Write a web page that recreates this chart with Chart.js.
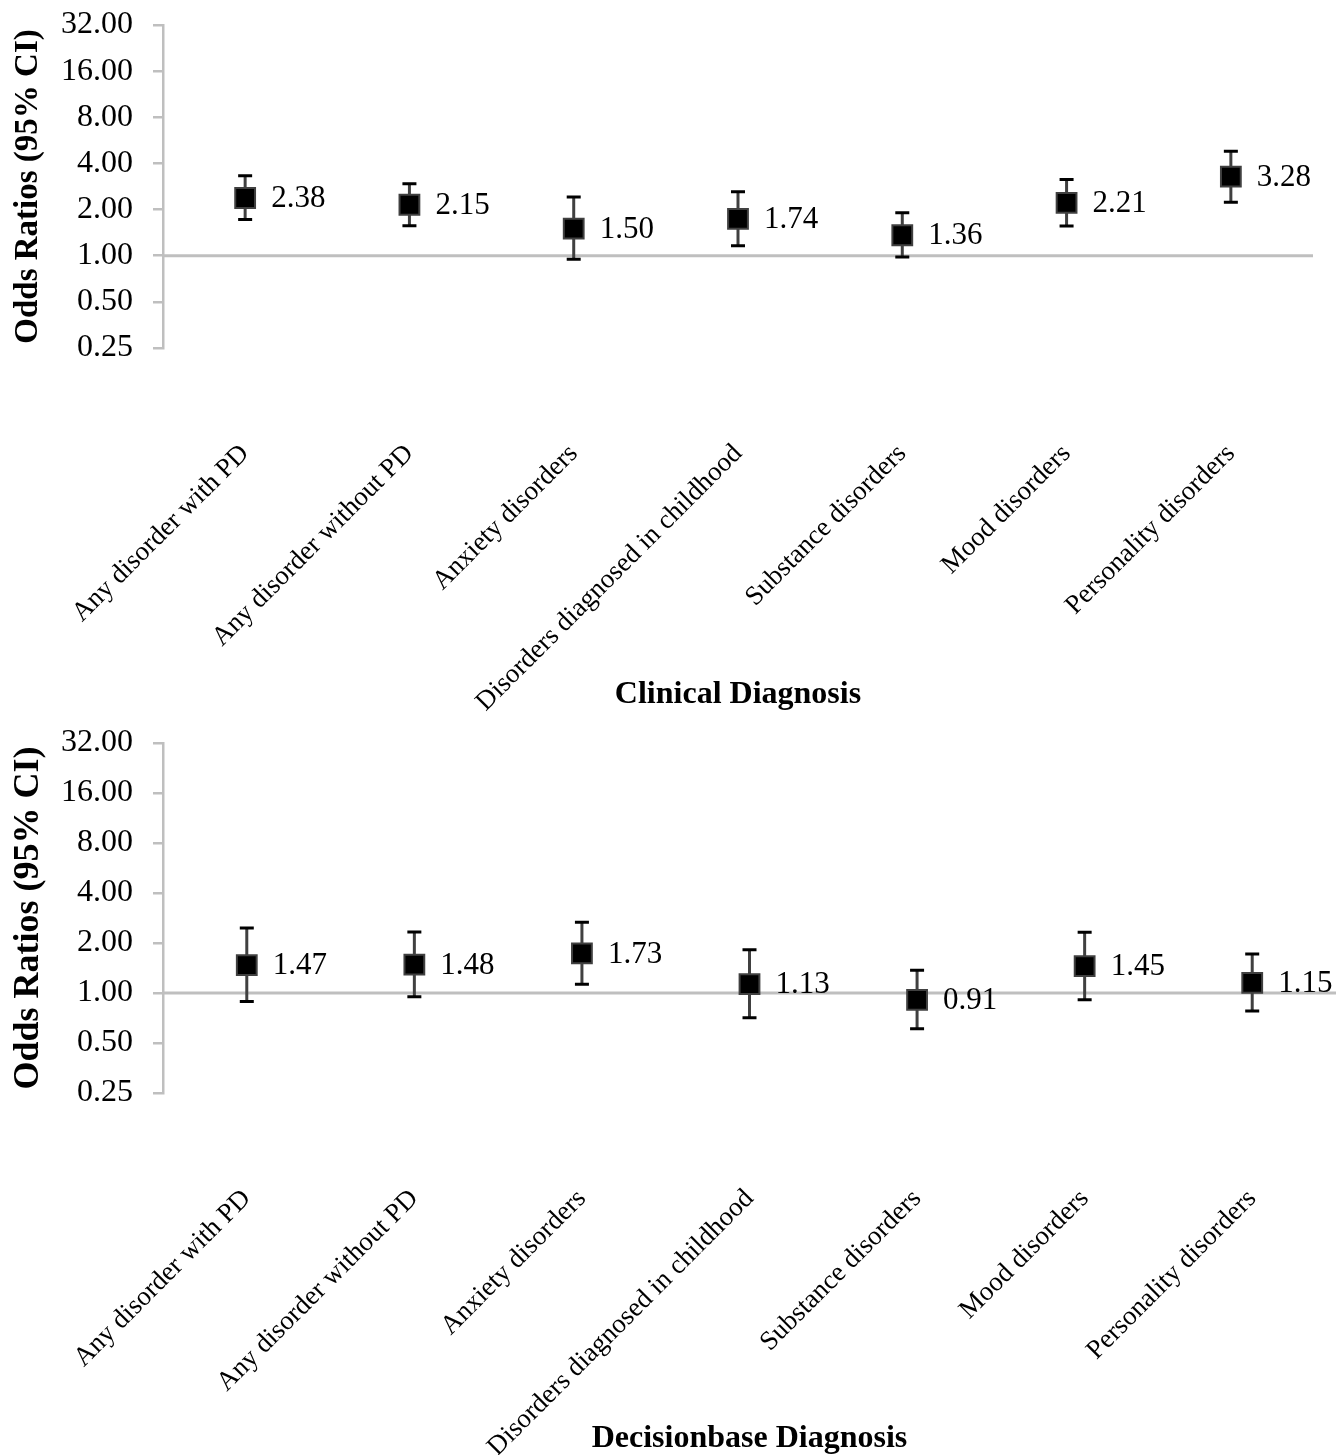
<!DOCTYPE html>
<html>
<head>
<meta charset="utf-8">
<script src="https://cdn.jsdelivr.net/npm/chart.js@4.4.1/dist/chart.umd.min.js"></script>
<style>
  html, body { margin: 0; padding: 0; background: #fff; overflow: hidden; }
  .box { position: absolute; left: 0; width: 1339px; }
  #top { top: 0; height: 720px; }
  #bot { top: 720px; height: 735px; }
</style>
</head>
<body>
<div class="box" id="top"><canvas id="c1"></canvas></div>
<div class="box" id="bot"><canvas id="c2"></canvas></div>
<script>
// ---- data ----
const categories = ["Any disorder with PD", "Any disorder without PD", "Anxiety disorders",
  "Disorders diagnosed in childhood", "Substance disorders", "Mood disorders", "Personality disorders"];
const clinicalOR    = [2.38, 2.15, 1.50, 1.74, 1.36, 2.21, 3.28];
const clinicalLower = [1.72, 1.57, 0.95, 1.16, 0.98, 1.56, 2.23];
const clinicalUpper = [3.32, 2.95, 2.42, 2.61, 1.91, 3.14, 4.81];
const decisionOR    = [1.47, 1.48, 1.73, 1.13, 0.91, 1.45, 1.15];
const decisionLower = [0.89, 0.95, 1.13, 0.71, 0.61, 0.91, 0.78];
const decisionUpper = [2.46, 2.33, 2.67, 1.82, 1.37, 2.32, 1.72];
const yTicks = [0.25, 0.5, 1, 2, 4, 8, 16, 32];
const yTitle = "Odds Ratios (95% CI)";
const xTitleTop = "Clinical Diagnosis";
const xTitleBottom = "Decisionbase Diagnosis";

const SERIF = "'Liberation Serif', 'Times New Roman', serif";
const AXIS_GREY = '#BFBFBF';

const forestPlugin = {
  id: 'forest',
  beforeDatasetsDraw(chart, args, opts) {
    const ctx = chart.ctx, area = chart.chartArea;
    const xs = chart.scales.x, ys = chart.scales.y;
    // reference line at OR = 1
    const y1 = ys.getPixelForValue(1);
    ctx.save();
    ctx.strokeStyle = AXIS_GREY;
    ctx.lineWidth = 3;
    ctx.beginPath();
    ctx.moveTo(area.left, y1);
    ctx.lineTo(area.right, y1);
    ctx.stroke();
    // error bars
    const lo = opts.lower, hi = opts.upper;
    for (let i = 0; i < lo.length; i++) {
      const x = xs.getPixelForValue(i);
      const yl = ys.getPixelForValue(lo[i]);
      const yh = ys.getPixelForValue(hi[i]);
      ctx.strokeStyle = '#404040';
      ctx.lineWidth = 3;
      ctx.beginPath();
      ctx.moveTo(x, yl); ctx.lineTo(x, yh);
      ctx.stroke();
      ctx.strokeStyle = '#000';
      ctx.beginPath();
      ctx.moveTo(x - 7, yl); ctx.lineTo(x + 7, yl);
      ctx.moveTo(x - 7, yh); ctx.lineTo(x + 7, yh);
      ctx.stroke();
    }
    ctx.restore();
  },
  afterDatasetsDraw(chart) {
    const ctx = chart.ctx;
    const meta = chart.getDatasetMeta(0);
    const data = chart.data.datasets[0].data;
    ctx.save();
    ctx.fillStyle = '#000';
    ctx.font = '31px ' + SERIF;
    ctx.textBaseline = 'middle';
    ctx.textAlign = 'left';
    meta.data.forEach((pt, i) => {
      ctx.fillText(data[i].toFixed(2), pt.x + 26, pt.y + 1);
    });
    ctx.restore();
  }
};

function makeChart(id, values, lower, upper, xTitle, cfg) {
  return new Chart(document.getElementById(id), {
    type: 'line',
    data: {
      labels: categories,
      datasets: [{
        data: values,
        showLine: false,
        pointStyle: 'rect',
        pointRadius: 14,
        pointHoverRadius: 14,
        pointBackgroundColor: '#000',
        pointBorderColor: '#404040',
        pointBorderWidth: 2
      }]
    },
    options: {
      responsive: true,
      maintainAspectRatio: false,
      animation: false,
      events: [],
      layout: { autoPadding: false, padding: { top: cfg.padTop, right: cfg.padRight, left: 0, bottom: 0 } },
      plugins: {
        legend: { display: false },
        tooltip: { enabled: false },
        forest: { lower: lower, upper: upper }
      },
      scales: {
        x: {
          type: 'category',
          offset: true,
          grid: { display: false, drawTicks: false },
          border: { display: false },
          ticks: {
            autoSkip: false,
            minRotation: 45,
            maxRotation: 45,
            padding: 90,
            color: '#000',
            font: { family: SERIF, size: 27 }
          },
          title: {
            display: true,
            text: xTitle,
            color: '#000',
            font: { family: SERIF, size: 32, weight: 'bold', lineHeight: 1 },
            padding: { top: 0, bottom: cfg.xTitlePadBottom }
          },
          afterFit(scale) {
            scale.height = cfg.xHeight;
            scale.paddingLeft = 0;
            scale.paddingRight = 0;
          }
        },
        y: {
          type: 'logarithmic',
          min: 0.25,
          max: 32,
          grid: { display: true, drawOnChartArea: false, drawTicks: true, tickLength: 10, color: AXIS_GREY, lineWidth: 2.5 },
          border: { display: true, color: AXIS_GREY, width: 2.5 },
          afterBuildTicks(scale) {
            scale.ticks = yTicks.map(v => ({ value: v }));
          },
          ticks: {
            padding: 20,
            color: '#000',
            font: { family: SERIF, size: cfg.tickSize },
            callback: (v) => Number(v).toFixed(2)
          },
          title: {
            display: true,
            text: yTitle,
            color: '#000',
            font: { family: SERIF, size: cfg.yTitleSize, weight: 'bold', lineHeight: 1.2 },
            padding: { top: cfg.yTitlePadTop, bottom: 0 }
          },
          afterFit(scale) {
            scale.width = 163;
            scale.paddingTop = 0;
            scale.paddingBottom = 0;
          }
        }
      }
    },
    plugins: [forestPlugin]
  });
}

makeChart('c1', clinicalOR, clinicalLower, clinicalUpper, xTitleTop,
  { padTop: 25, padRight: 26, xHeight: 372, xTitlePadBottom: 9, tickSize: 32, yTitleSize: 33, yTitlePadTop: 9 });
makeChart('c2', decisionOR, decisionLower, decisionUpper, xTitleBottom,
  { padTop: 23, padRight: 3, xHeight: 362, xTitlePadBottom: 0, tickSize: 32, yTitleSize: 36, yTitlePadTop: 7 });
</script>
</body>
</html>
